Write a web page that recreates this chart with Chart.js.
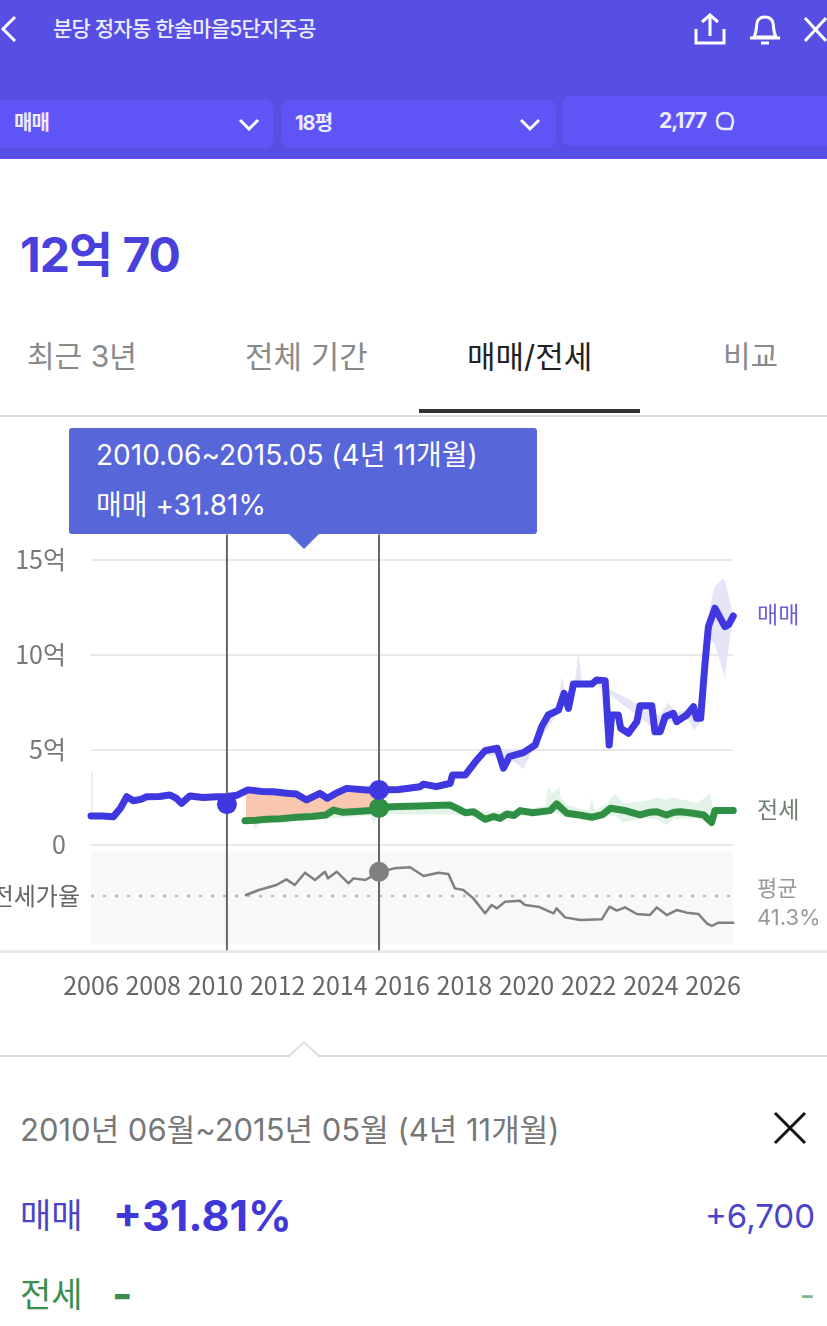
<!DOCTYPE html>
<html lang="ko">
<head>
<meta charset="utf-8">
<script src="https://cdn.jsdelivr.net/npm/chart.js@4"></script>
<style>
html, body { margin: 0; padding: 0; background: #fff; }
body { width: 827px; height: 1326px; position: relative; overflow: hidden; font-family: Inter, "Noto Sans CJK KR", "Noto Sans", sans-serif; }
.t { position: absolute; white-space: nowrap; line-height: 1; }
.box { position: absolute; background: #5f55f6; border-radius: 8px; }
#myChart { position: absolute; left: 0; top: 420px; }
svg { position: absolute; }
</style>
</head>
<body>
<div style="position:absolute;left:0;top:0;width:827px;height:159px;background:#574ee4"></div>
<svg style="left:0;top:14px" width="20" height="30" viewBox="0 0 20 30"><path d="M15 3 L3 15 L15 27" fill="none" stroke="#fff" stroke-width="3"/></svg>
<div class="t" style="left:53px;top:18px;font-size:21px;font-weight:500;color:#ececff;letter-spacing:-0.8px">분당 정자동 한솔마을5단지주공</div>
<svg style="left:692px;top:12px" width="36" height="34" viewBox="0 0 36 34"><path d="M18 24 V3 M10 10 L18 3 L26 10 M4 17 V31 H32 V17" fill="none" stroke="#fff" stroke-width="3"/></svg>
<svg style="left:747px;top:12px" width="36" height="34" viewBox="0 0 36 34"><path d="M7 25 C10 20 9 15 10 11 C12 3 24 3 26 11 C27 15 26 20 29 25 Z M3 26 H33 M14 31 H22" fill="none" stroke="#fff" stroke-width="3"/></svg>
<svg style="left:803px;top:14px" width="24" height="30" viewBox="0 0 24 30"><path d="M2 4 L23 27 M23 4 L2 27" fill="none" stroke="#fff" stroke-width="3"/></svg>

<div class="box" style="left:-8px;top:100px;width:281px;height:48px"></div>
<div class="box" style="left:281px;top:100px;width:275px;height:48px"></div>
<div class="box" style="left:562px;top:96px;width:273px;height:50px"></div>
<div class="t" style="left:14px;top:113px;font-size:20px;font-weight:700;color:#ececff;letter-spacing:-1px">매매</div>
<div class="t" style="left:295px;top:113px;font-size:20px;font-weight:700;color:#ececff;letter-spacing:-1px">18평</div>
<div class="t" style="left:659px;top:110px;font-size:21px;font-weight:700;color:#ececff;letter-spacing:-1px">2,177</div>
<svg style="left:715px;top:111px" width="24" height="22" viewBox="0 0 24 22"><path d="M16 18 H9 C3 18 2 13 2 10 C2 5 5 2 10 2 C15 2 18 5 18 10 C18 13 17 15 16 18 Z" fill="none" stroke="#ececff" stroke-width="2.5"/></svg>
<svg style="left:238px;top:118px" width="22" height="14" viewBox="0 0 22 14"><path d="M2 2 L11 11 L20 2" fill="none" stroke="#fff" stroke-width="3"/></svg>
<svg style="left:519px;top:118px" width="22" height="14" viewBox="0 0 22 14"><path d="M2 2 L11 11 L20 2" fill="none" stroke="#fff" stroke-width="3"/></svg>

<div class="t" style="left:20px;top:231px;font-size:48px;font-weight:700;color:#4a40dc;letter-spacing:-1px">12억 70</div>

<div class="t" style="left:27px;top:341px;font-size:30px;color:#8a8a8a">최근 3년</div>
<div class="t" style="left:245px;top:341px;font-size:31px;color:#8a8a8a">전체 기간</div>
<div class="t" style="left:467px;top:341px;font-size:31px;color:#222">매매/전세</div>
<div class="t" style="left:723px;top:341px;font-size:30px;color:#8a8a8a">비교</div>
<div style="position:absolute;left:419px;top:409px;width:221px;height:4px;background:#333"></div>
<div style="position:absolute;left:0;top:415px;width:827px;height:2px;background:#ddd"></div>

<div style="position:absolute;left:0;top:950px;width:827px;height:3px;background:#e8e8e8"></div>

<canvas id="myChart" width="827" height="600"></canvas>

<div style="position:absolute;left:69px;top:428px;width:468px;height:106px;background:#5766d9;border-radius:3px"></div>
<svg style="left:289px;top:534px" width="30" height="16" viewBox="0 0 30 16"><path d="M0 0 H30 L15 15 Z" fill="#5766d9"/></svg>
<div class="t" style="left:96px;top:441px;font-size:28px;color:#fff">2010.06~2015.05 (4년 11개월)</div>
<div class="t" style="left:96px;top:491px;font-size:28px;color:#fff">매매 +31.81%</div>

<div class="t" style="left:757px;top:604px;font-size:23px;color:#6a5fd8">매매</div>
<div class="t" style="left:757px;top:799px;font-size:23px;color:#6f7f6f">전세</div>
<div class="t" style="left:757px;top:877px;font-size:22px;color:#999">평균</div>
<div class="t" style="left:757px;top:906px;font-size:22px;color:#999">41.3%</div>
<div class="t" style="right:747px;top:885px;font-size:24px;color:#666">전세가율</div>

<svg style="left:0;top:1040px" width="827" height="20" viewBox="0 0 827 20"><path d="M0 16 H289 L304 2 L319 16 H827" fill="#fff" stroke="#ddd" stroke-width="2"/></svg>
<div class="t" style="left:20px;top:1114px;font-size:31px;color:#777">2010년 06월~2015년 05월 (4년 11개월)</div>
<svg style="left:772px;top:1111px" width="36" height="34" viewBox="0 0 36 34"><path d="M3 2 L33 32 M33 2 L3 32" fill="none" stroke="#111" stroke-width="3"/></svg>
<div class="t" style="left:20px;top:1199px;font-size:34px;color:#4a45c8">매매</div>
<div class="t" style="left:113px;top:1194px;font-size:43px;font-weight:700;color:#3f37d8">+31.81%</div>
<div class="t" style="right:12px;top:1200px;font-size:33px;color:#4a45c8">+6,700</div>
<div class="t" style="left:20px;top:1278px;font-size:34px;color:#3a8f50">전세</div>
<div class="t" style="left:112px;top:1272px;font-size:44px;font-weight:700;color:#3a8f50">-</div>
<div class="t" style="right:12px;top:1279px;font-size:33px;color:#7fb88f">-</div>

<script>
// Tick labels
const yearTicks = [2006, 2008, 2010, 2012, 2014, 2016, 2018, 2020, 2022, 2024, 2026];
const priceTicks = [0, 5, 10, 15];

// 매매 (in 억)
const saleYears = [2006, 2006.35, 2006.72, 2006.95, 2007.15, 2007.36, 2007.6, 2007.79, 2008.2, 2008.54, 2008.75, 2008.91, 2009.18, 2009.6, 2010.04, 2010.37, 2010.7, 2010.98, 2011.06, 2011.5, 2011.86, 2012.3, 2012.6, 2012.93, 2013.36, 2013.6, 2013.85, 2014.22, 2014.86, 2015.29, 2015.9, 2016.58, 2016.69, 2017.1, 2017.55, 2017.62, 2018.03, 2018.4, 2018.67, 2019.06, 2019.26, 2019.45, 2019.9, 2020.28, 2020.49, 2020.7, 2021.03, 2021.21, 2021.35, 2021.51, 2022.1, 2022.25, 2022.53, 2022.66, 2022.74, 2022.95, 2023.03, 2023.28, 2023.55, 2023.65, 2024.03, 2024.13, 2024.3, 2024.46, 2024.72, 2024.83, 2025.15, 2025.37, 2025.47, 2025.6, 2025.74, 2025.85, 2026.06, 2026.38, 2026.5, 2026.65];
const saleValues = [1.53, 1.52, 1.49, 1.95, 2.54, 2.33, 2.4, 2.54, 2.55, 2.63, 2.45, 2.19, 2.58, 2.5, 2.54, 2.55, 2.62, 2.85, 2.9, 2.82, 2.8, 2.72, 2.68, 2.37, 2.72, 2.46, 2.7, 2.98, 2.89, 2.89, 2.92, 3.07, 3.2, 3.07, 3.25, 3.68, 3.68, 4.47, 4.96, 5.09, 4.04, 4.65, 4.86, 5.26, 6.23, 6.84, 7.1, 7.98, 7.19, 8.47, 8.47, 8.68, 8.65, 5.26, 6.84, 6.84, 6.14, 5.88, 6.49, 7.33, 7.33, 5.96, 5.96, 6.75, 6.93, 6.49, 6.84, 7.28, 6.67, 6.67, 9.56, 11.49, 12.46, 11.49, 11.6, 12.05];

// 전세 (in 억)
const rentYears = [2010.95, 2011.3, 2011.65, 2012.1, 2012.6, 2013.1, 2013.55, 2013.8, 2014.1, 2014.4, 2015.0, 2015.29, 2015.9, 2016.58, 2017, 2017.55, 2017.8, 2018.03, 2018.3, 2018.67, 2018.95, 2019.15, 2019.37, 2019.6, 2019.8, 2020.2, 2020.76, 2020.97, 2021.3, 2021.7, 2022.1, 2022.45, 2022.7, 2023.2, 2023.65, 2023.95, 2024.2, 2024.5, 2024.75, 2024.95, 2025.3, 2025.7, 2025.95, 2026.06, 2026.65];
const rentValues = [1.28, 1.3, 1.35, 1.38, 1.46, 1.5, 1.58, 1.84, 1.72, 1.75, 1.81, 1.98, 2.02, 2.05, 2.08, 2.1, 1.9, 1.7, 1.75, 1.35, 1.5, 1.4, 1.63, 1.55, 1.81, 1.7, 1.81, 2.16, 1.67, 1.58, 1.46, 1.6, 1.93, 1.8, 1.58, 1.72, 1.75, 1.58, 1.72, 1.75, 1.68, 1.58, 1.18, 1.81, 1.81];

// 전세가율 (%)
const ratioYears = [2010.98, 2011.4, 2011.96, 2012.28, 2012.55, 2012.88, 2013.2, 2013.52, 2013.62, 2013.9, 2014.28, 2014.44, 2014.82, 2015.29, 2015.75, 2016.26, 2016.69, 2017.17, 2017.49, 2017.7, 2017.97, 2018.29, 2018.67, 2018.88, 2019.05, 2019.31, 2019.79, 2019.95, 2020.38, 2020.87, 2020.97, 2021.24, 2021.72, 2022.42, 2022.67, 2022.9, 2023.17, 2023.55, 2023.97, 2024.19, 2024.51, 2024.83, 2025.15, 2025.53, 2025.8, 2025.96, 2026.17, 2026.65];
const ratioValues = [42.3, 47.4, 52.5, 58.3, 52.5, 65.1, 57.6, 66.1, 59.3, 66.1, 54.2, 59.3, 57.6, 66.1, 69.5, 70.6, 61.7, 65.1, 63.7, 49.1, 47.4, 38.9, 23.6, 32.1, 28.7, 35.5, 36.5, 32.1, 30.4, 23.6, 28.7, 19.5, 16.8, 17.5, 30.4, 26.4, 29.7, 22.9, 21.9, 29.7, 21.9, 27, 24.3, 22.9, 13.4, 10.7, 14.1, 14.1];
const ratioAverage = 41.3;

// 매매 min/max band
const saleBandYears = [2018.6, 2019.6, 2019.9, 2020.2, 2021.0, 2021.13, 2021.3, 2021.55, 2021.67, 2021.8, 2022.2, 2024.3, 2024.55, 2024.8, 2025.2, 2025.4, 2025.6, 2025.75, 2025.9, 2026.05, 2026.3, 2026.38, 2026.5, 2026.65];
const saleBandHigh = [5.0, 5.0, 5.0, 5.4, 7.2, 8.86, 7.6, 8.5, 10.1, 8.5, 8.6, 6.8, 7.5, 7.0, 7.1, 7.3, 7.2, 10.5, 12.5, 13.6, 14.0, 13.9, 13.1, 12.05];
const saleBandLow = [4.8, 4.4, 4.0, 5.0, 6.9, 7.7, 7.0, 8.3, 8.3, 8.3, 8.5, 5.9, 6.5, 6.5, 6.6, 6.05, 6.5, 9.0, 10.8, 10.6, 9.2, 8.8, 10.4, 12.05];
const saleSpikeYears = [2006.03, 2006.03];
const saleSpikeValues = [1.5, 3.86];

// 전세 min/max band
const rentBandYears = [2011, 2011.2, 2011.3, 2011.4, 2015.0, 2015.1, 2015.2, 2018, 2019, 2020.2, 2020.6, 2020.7, 2020.85, 2021.05, 2021.1, 2021.3, 2022.0, 2022.1, 2022.2, 2022.6, 2022.85, 2023.1, 2023.8, 2024.2, 2024.5, 2024.7, 2025.0, 2025.5, 2025.9, 2026.0, 2026.65];
const rentBandHigh = [1.3, 1.4, 1.45, 1.45, 1.9, 1.95, 2.05, 1.85, 1.75, 1.95, 2.05, 3.05, 2.7, 3.1, 2.5, 2.1, 1.8, 2.5, 1.8, 2.2, 2.7, 2.2, 2.3, 2.5, 2.4, 2.5, 2.4, 2.2, 2.7, 1.85, 1.85];
const rentBandLow = [1.2, 1.1, 0.8, 1.15, 1.55, 0.95, 1.6, 1.6, 1.25, 1.6, 1.7, 1.7, 1.7, 1.6, 1.5, 1.45, 1.4, 1.4, 1.4, 1.5, 1.55, 1.2, 1.4, 1.35, 1.05, 1.35, 1.4, 1.4, 1.1, 1.75, 1.8];

// Selected period
const periodStart = 2010.37;
const periodEnd = 2015.26;
const periodSale = [2.15, 2.9];
const periodRent = 1.95;
const periodRatio = 66;
const gapStart = 2010.9;
const gapEnd = 2015.3;

function Points(xs, ys){
    return xs.map((x, i) => ({x: x, y: ys[i]}));
}

function Between(points, from, to){
    return points.filter(p => p.x >= from && p.x <= to);
}

function LineSet(data, color, width, extra){
    return Object.assign({
        data: data,
        borderColor: color,
        backgroundColor: color,
        borderWidth: width,
        pointRadius: 0,
        tension: 0,
        fill: false,
        clip: false,
        borderCapStyle: 'round',
        borderJoinStyle: 'round'
    }, extra || {});
}

function DotSet(data, color, yAxisID){
    return {
        data: data,
        showLine: false,
        pointRadius: 10,
        pointBackgroundColor: color,
        pointBorderWidth: 0,
        clip: false,
        yAxisID: yAxisID || 'y'
    };
}

const salePoints = Points(saleYears, saleValues);
const rentPoints = Points(rentYears, rentValues);

// Grey panel under the price chart
const panelPlugin = {
    id: 'panel',
    beforeDatasetsDraw(chart){
        const c = chart.ctx;
        const a = chart.chartArea;
        const top = chart.scales.ratio.getPixelForValue(87);
        const bottom = chart.scales.ratio.getPixelForValue(-7.68);
        c.save();
        c.fillStyle = '#f8f8f8';
        c.fillRect(a.left, top, a.right - a.left, bottom - top);
        c.restore();
    }
};

const ctx = document.getElementById('myChart').getContext('2d');
const myChart = new Chart(ctx, {
    type: 'line',
    data: {
        // first one ends up on top
        datasets: [
            DotSet([{x: periodStart, y: periodSale[0]}, {x: periodEnd, y: periodSale[1]}], '#3f37e0'),
            DotSet([{x: periodEnd, y: periodRent}], '#2f8f45'),
            DotSet([{x: periodEnd, y: periodRatio}], '#808080', 'ratio'),
            LineSet([{x: periodStart, y: -5.5}, {x: periodStart, y: 16.3}], '#666', 2),
            LineSet([{x: periodEnd, y: -5.5}, {x: periodEnd, y: 16.3}], '#666', 2),
            LineSet(salePoints, '#3f37e0', 7),
            LineSet(rentPoints, '#2f8f45', 7),
            LineSet(Points(ratioYears, ratioValues), '#808080', 2.5, {yAxisID: 'ratio'}),
            LineSet([{x: 2006, y: ratioAverage}, {x: 2026.75, y: ratioAverage}], '#bbb', 2.5, {yAxisID: 'ratio', borderDash: [3, 9], borderCapStyle: 'butt'}),
            // gap between 매매 and 전세 over the selected period
            LineSet(Between(salePoints, gapStart, gapEnd), 'rgba(0,0,0,0)', 0, {fill: {target: '+1'}, backgroundColor: '#f9c6ae'}),
            LineSet(Between(rentPoints, gapStart, gapEnd), 'rgba(0,0,0,0)', 0),
            LineSet(Points(saleBandYears, saleBandHigh), 'rgba(0,0,0,0)', 0, {fill: '+1', backgroundColor: '#e6e5f8'}),
            LineSet(Points(saleBandYears, saleBandLow), 'rgba(0,0,0,0)', 0),
            LineSet(Points(rentBandYears, rentBandHigh), 'rgba(0,0,0,0)', 0, {fill: '+1', backgroundColor: '#e4f3e7'}),
            LineSet(Points(rentBandYears, rentBandLow), 'rgba(0,0,0,0)', 0),
            LineSet(Points(saleSpikeYears, saleSpikeValues), '#e6e5f8', 1.5)
        ]
    },
    options: {
        responsive: false,
        animation: false,
        events: [],
        layout: { padding: { top: 120, right: 94, left: 0, bottom: 0 } },
        plugins: { legend: { display: false }, tooltip: { enabled: false } },
        scales: {
            x: {
                type: 'linear',
                min: 2006,
                max: 2026.64,
                border: { display: false },
                grid: { display: false },
                afterFit: scale => { scale.height = 76; },
                afterBuildTicks: scale => { scale.ticks = yearTicks.map(v => ({value: v})); },
                ticks: {
                    autoSkip: false,
                    maxRotation: 0,
                    padding: 18,
                    color: '#666',
                    font: { size: 25, family: '"Noto Sans CJK KR"' },
                    callback: v => String(v)
                }
            },
            y: {
                min: -5.21,
                max: 16.05,
                border: { display: false },
                grid: { color: '#e8e8e8', lineWidth: 2, drawTicks: false },
                afterFit: scale => { scale.width = 91; },
                afterBuildTicks: scale => { scale.ticks = priceTicks.map(v => ({value: v})); },
                ticks: {
                    autoSkip: false,
                    padding: 25,
                    color: '#777',
                    font: { size: 25, family: '"Noto Sans CJK KR"' },
                    callback: v => v === 0 ? '0' : v + '억'
                }
            },
            ratio: {
                axis: 'y',
                type: 'linear',
                display: false,
                min: -7.68,
                max: 404.6
            }
        }
    },
    plugins: [panelPlugin]
});
</script>
</body>
</html>
